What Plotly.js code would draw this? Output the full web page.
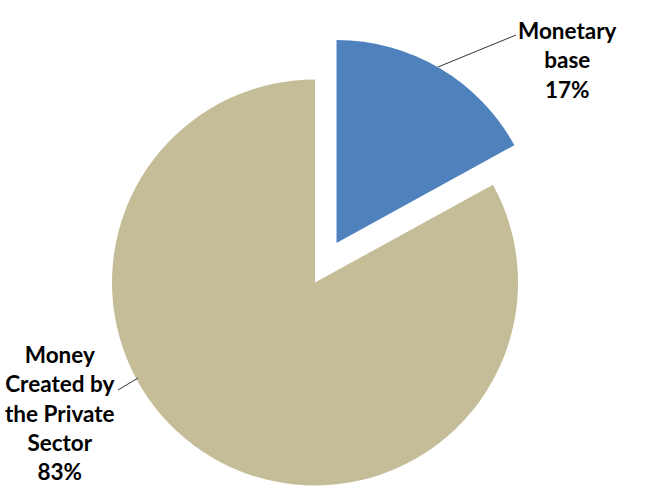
<!DOCTYPE html>
<html>
<head>
<meta charset="utf-8">
<script src="https://cdn.plot.ly/plotly-3.0.1.min.js"></script>
<style>html,body{margin:0;padding:0;background:#fff;overflow:hidden}#chart{width:666px;height:498px}</style>
</head>
<body>
<div id="chart"></div>
<script>
// ---- data ----
const categories = ['Monetary base', 'Money Created by the Private Sector'];
const values = [17, 83];
const labelLines = [['Monetary', 'base'], ['Money', 'Created by', 'the Private', 'Sector']];
const sliceColors = ['#4F81BD', '#C4BD97'];

// ---- layout geometry (pixels) ----
const W = 666, H = 498;
const R = 203;
const mainCenter = [315, 282.5];
const pulledCenter = [336.5, 243];
function dom(c) {
  return {
    x: [(c[0] - R) / W, (c[0] + R) / W],
    y: [(H - (c[1] + R)) / H, (H - (c[1] - R)) / H]
  };
}
const total = values.reduce((a, b) => a + b, 0);
const pct = values.map(v => Math.round(v / total * 100) + '%');
const T = 'rgba(0,0,0,0)';

const base = {
  type: 'pie', labels: categories, values: values, sort: false,
  direction: 'clockwise', rotation: 0, textinfo: 'none',
  hoverinfo: 'label+percent', showlegend: false
};
const traces = [
  Object.assign({}, base, { domain: dom(mainCenter), marker: { colors: [T, sliceColors[1]], line: { width: 0 } } }),
  Object.assign({}, base, { domain: dom(pulledCenter), marker: { colors: [sliceColors[0], T], line: { width: 0 } } })
];

const font = { family: 'Lato, "Liberation Sans", sans-serif', size: 22.5, color: '#000' };
function labelText(i) { return labelLines[i].concat([pct[i]]).map(s => '<b>' + s + '</b>').join('<br>'); }
const px = x => x / W, py = y => (H - y) / H;

const layout = {
  width: W, height: H, margin: { l: 0, r: 0, t: 0, b: 0 },
  paper_bgcolor: '#fff', plot_bgcolor: '#fff', showlegend: false,
  annotations: [
    { text: labelText(0), x: px(567), y: py(60), xref: 'paper', yref: 'paper', xanchor: 'center', yanchor: 'middle', showarrow: false, font: font, align: 'center' },
    { text: labelText(1), x: px(60), y: py(413), xref: 'paper', yref: 'paper', xanchor: 'center', yanchor: 'middle', showarrow: false, font: font, align: 'center' }
  ],
  shapes: [
    { type: 'line', xref: 'paper', yref: 'paper', x0: px(438), y0: py(67), x1: px(516), y1: py(35), line: { color: '#333', width: 1 } },
    { type: 'line', xref: 'paper', yref: 'paper', x0: px(138), y0: py(378), x1: px(118), y1: py(390), line: { color: '#333', width: 1 } }
  ]
};
Plotly.newPlot('chart', traces, layout, { displayModeBar: false, staticPlot: true });
</script>
</body>
</html>
